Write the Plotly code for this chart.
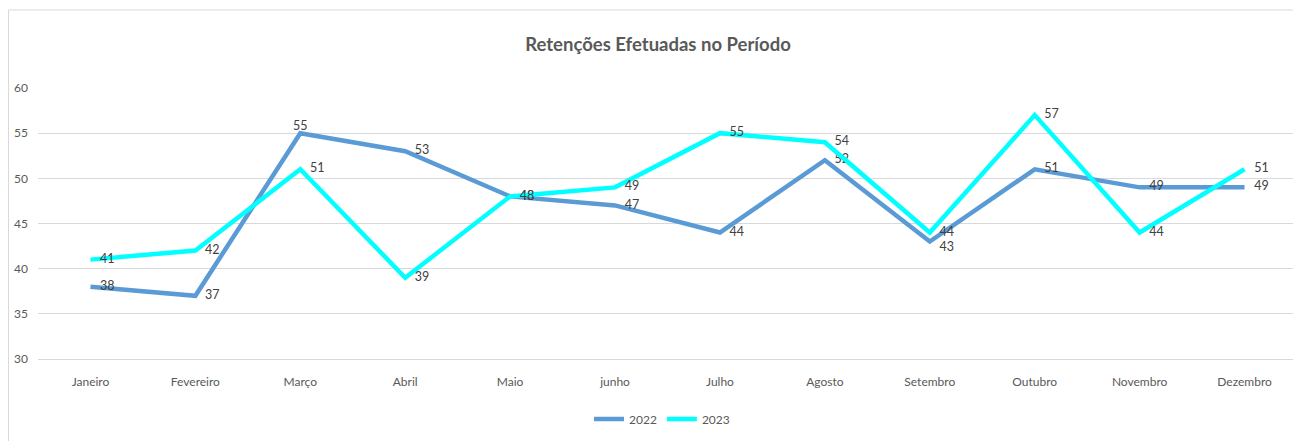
import plotly.graph_objects as go

months = ["Janeiro", "Fevereiro", "Março", "Abril", "Maio", "junho", "Julho",
          "Agosto", "Setembro", "Outubro", "Novembro", "Dezembro"]
vals_2022 = [38, 37, 55, 53, 48, 47, 44, 52, 43, 51, 49, 49]
vals_2023 = [41, 42, 51, 39, 48, 49, 55, 54, 44, 57, 44, 51]
y_ticks = [30, 35, 40, 45, 50, 55, 60]

FONT = "Lato, Roboto, sans-serif"
# page body adds 8px offset; figure sized to fit the 1301x441 window
W, H = 1293, 433
L, R, T, B = 30, 4, 80, 82
pw = W - L - R
ph = H - T - B

PAD = "\u00a0\u00a0\u00a0"

pos_2022 = ["middle right"] * len(months)
pos_2022[2] = "top center"
pos_2022[8] = "bottom right"
pos_2023 = ["middle right"] * len(months)

txt_2022 = [(PAD + str(v)) if p != "top center" else str(v) for v, p in zip(vals_2022, pos_2022)]
txt_2023 = [PAD + str(v) for v in vals_2023]

fig = go.Figure()
fig.add_trace(go.Scatter(
    x=months, y=vals_2022, name="2022", mode="lines+text",
    line=dict(color="#5B9BD5", width=4.5),
    text=txt_2022, textposition=pos_2022,
    textfont=dict(family=FONT, size=12.5, color="#404040"),
))
fig.add_trace(go.Scatter(
    x=months, y=vals_2023, name="2023", mode="lines+text",
    line=dict(color="#00FFFF", width=4.5),
    text=txt_2023, textposition=pos_2023,
    textfont=dict(family=FONT, size=12.5, color="#404040"),
))

fig.add_shape(type="rect", xref="paper", yref="paper",
              x0=(0.5 - L) / pw, x1=(W + 20 - L) / pw,
              y0=(-20 - B) / ph, y1=(H - 2 - B) / ph,
              line=dict(color="#D9D9D9", width=1), layer="below")

fig.update_layout(
    width=W, height=H,
    margin=dict(l=L, r=R, t=T, b=B),
    paper_bgcolor="white", plot_bgcolor="white",
    title=dict(text="<b>Retenções Efetuadas no Período</b>", x=(658 - 8) / W, xanchor="center",
               y=1 - 37 / H, yanchor="middle",
               font=dict(family=FONT, size=18.5, color="#595959")),
    xaxis=dict(showgrid=False, showline=True, linecolor="#D9D9D9", linewidth=1,
               zeroline=False, ticks="",
               tickfont=dict(family=FONT, size=12, color="#595959"),
               range=[-0.5, len(months) - 0.5], ticklabelstandoff=12),
    yaxis=dict(range=[30, 60], tickvals=y_ticks, showgrid=True, gridcolor="#D9D9D9",
               gridwidth=1, zeroline=False, showline=False,
               tickfont=dict(family=FONT, size=12, color="#595959"), ticklabelstandoff=9),
    showlegend=True,
    legend=dict(orientation="h", x=(662 - 8 - L) / pw, xanchor="center",
                y=-(411 - (H - B)) / ph, yanchor="middle",
                font=dict(family=FONT, size=12, color="#595959"),
                tracegroupgap=0, bgcolor="rgba(0,0,0,0)"),
)

fig.write_html("out.html")
